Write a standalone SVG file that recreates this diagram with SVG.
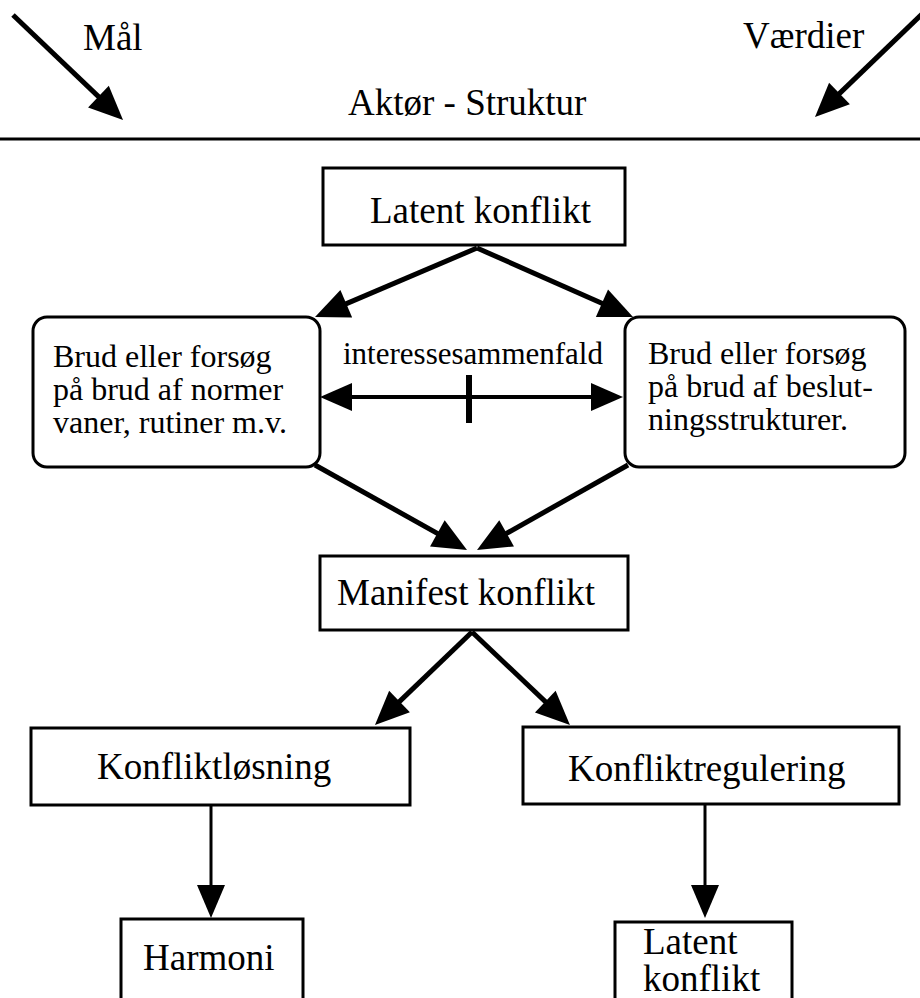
<svg xmlns="http://www.w3.org/2000/svg" width="920" height="998" viewBox="0 0 920 998">
<style>
.box{fill:#fff;stroke:#000;stroke-width:3}
.t{font-family:"Liberation Serif","Times New Roman",serif;fill:#000;font-size:37px}
.s{font-size:32px}
.m{font-size:31px}
.c{stroke:#000;stroke-width:5;fill:none}
.cv{stroke:#000;stroke-width:3;fill:none}
.cd{stroke:#000;stroke-width:4;fill:none}
</style>
<defs>
<marker id="ah" markerUnits="userSpaceOnUse" markerWidth="36" markerHeight="30" refX="24" refY="15" orient="auto" overflow="visible">
<path d="M0,0 L34,15 L0,30 z" fill="#000"/>
</marker>
<marker id="ahv" markerUnits="userSpaceOnUse" markerWidth="34" markerHeight="28" refX="25" refY="14" orient="auto" overflow="visible">
<path d="M0,0 L33,14 L0,28 z" fill="#000"/>
</marker>
<marker id="ahd" markerUnits="userSpaceOnUse" markerWidth="34" markerHeight="28" refX="24" refY="14" orient="auto-start-reverse" overflow="visible">
<path d="M0,0 L32,14 L0,28 z" fill="#000"/>
</marker>
</defs>

<g id="header">
<text class="t" x="83" y="50">Mål</text>
<text class="t" x="743" y="48">Værdier</text>
<text class="t" x="348" y="115">Aktør - Struktur</text>
<line x1="0" y1="139" x2="920" y2="139" stroke="#000" stroke-width="3"/>
</g>

<g id="n-latent-top">
<rect class="box" x="323" y="168" width="302" height="77"/>
<text class="t" x="370" y="223">Latent konflikt</text>
</g>

<g id="n-brud-normer">
<rect class="box" x="33" y="317" width="287" height="150" rx="14"/>
<text class="t s" x="53" y="367">Brud eller forsøg</text>
<text class="t s" x="53" y="400">på brud af normer</text>
<text class="t s" x="53" y="433">vaner, rutiner m.v.</text>
</g>

<g id="n-brud-beslutning">
<rect class="box" x="625" y="317" width="280" height="150" rx="14"/>
<text class="t s" x="648" y="364">Brud eller forsøg</text>
<text class="t s" x="648" y="397">på brud af beslut-</text>
<text class="t s" x="648" y="430">ningsstrukturer.</text>
</g>

<g id="n-manifest">
<rect class="box" x="320" y="556" width="308" height="74"/>
<text class="t" x="337" y="605">Manifest konflikt</text>
</g>

<g id="n-konfliktlosning">
<rect class="box" x="31" y="728" width="379" height="77"/>
<text class="t" x="97" y="779">Konfliktløsning</text>
</g>

<g id="n-konfliktregulering">
<rect class="box" x="523" y="727" width="376" height="77"/>
<text class="t" x="568" y="781">Konfliktregulering</text>
</g>

<g id="n-harmoni">
<rect class="box" x="121" y="919" width="182" height="95"/>
<text class="t" x="143" y="970">Harmoni</text>
</g>

<g id="n-latent-bottom">
<rect class="box" x="615" y="922" width="177" height="95"/>
<text class="t" x="643" y="954">Latent</text>
<text class="t" x="643" y="991">konflikt</text>
</g>

<g id="connectors">
<line class="c" x1="13" y1="15" x2="115.8" y2="113.1" marker-end="url(#ah)"/>
<line class="c" x1="922" y1="14" x2="822.2" y2="110.1" marker-end="url(#ah)"/>
<line class="c" x1="477" y1="248" x2="324.2" y2="313.1" marker-end="url(#ah)"/>
<line class="c" x1="477" y1="248" x2="623.9" y2="313" marker-end="url(#ah)"/>
<line class="c" x1="315" y1="465" x2="458.3" y2="545.1" marker-end="url(#ah)"/>
<line class="c" x1="628" y1="465" x2="485.7" y2="545.1" marker-end="url(#ah)"/>
<line class="c" x1="472" y1="632" x2="382.2" y2="718.1" marker-end="url(#ah)"/>
<line class="c" x1="472" y1="632" x2="562.7" y2="718.1" marker-end="url(#ah)"/>
<line class="cv" x1="211" y1="805" x2="211" y2="910" marker-end="url(#ahv)"/>
<line class="cv" x1="705" y1="804" x2="705" y2="910" marker-end="url(#ahv)"/>
<line class="cd" x1="328" y1="397" x2="615" y2="397" marker-start="url(#ahd)" marker-end="url(#ahd)"/>
<line x1="469" y1="375" x2="469" y2="423" stroke="#000" stroke-width="6"/>
<text class="t m" x="343" y="364">interessesammenfald</text>
</g>
</svg>
